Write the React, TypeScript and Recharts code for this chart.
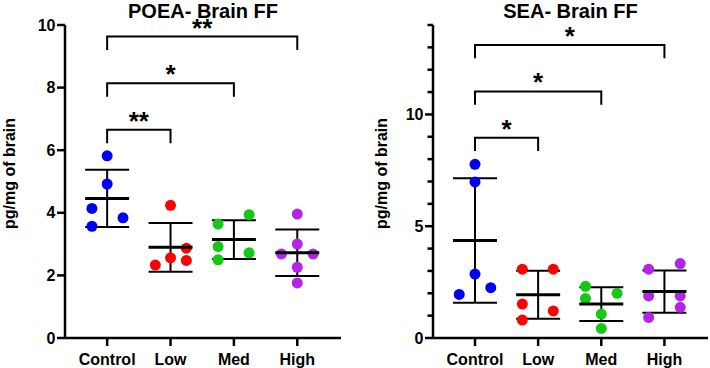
import React from 'react';
import { ScatterChart, Scatter, XAxis, YAxis, ErrorBar } from 'recharts';

const FONT = '"Liberation Sans", Arial, sans-serif';

// Groups on the x axis
const categories = ['Control', 'Low', 'Med', 'High'];
const groupColors = ['#0000F5', '#FF0000', '#14C814', '#B424E6'];

// POEA- Brain FF, pg/mg of brain
const poeaControl = [5.82, 4.92, 4.14, 3.84, 3.57];
const poeaLow = [4.24, 2.87, 2.56, 2.48, 2.33];
const poeaMed = [3.94, 3.64, 2.92, 2.72, 2.5];
const poeaHigh = [3.96, 3.0, 2.68, 2.68, 2.26, 1.76];

// horizontal scatter of each dot inside its group (category units)
const poeaControlJitter = [0, 0, -0.24, 0.25, -0.24];
const poeaLowJitter = [0, 0.25, 0, 0.25, -0.24];
const poeaMedJitter = [0.24, -0.25, -0.25, 0.24, -0.25];
const poeaHighJitter = [0, 0, -0.25, 0.25, 0, 0];

const poeaBrackets = [
  { from: 1, to: 2, y: 6.65, label: '**' },
  { from: 1, to: 3, y: 8.14, label: '*' },
  { from: 1, to: 4, y: 9.63, label: '**' },
];

// SEA- Brain FF, pg/mg of brain
const seaControl = [7.77, 6.98, 2.86, 2.25, 1.95];
const seaLow = [3.08, 3.08, 1.52, 1.21, 0.8];
const seaMed = [2.31, 2.0, 1.77, 1.07, 0.43];
const seaHigh = [3.33, 3.08, 1.88, 1.88, 1.37, 0.92];

const seaControlJitter = [0, 0, 0, 0.25, -0.25];
const seaLowJitter = [-0.25, 0.24, -0.25, 0.24, -0.25];
const seaMedJitter = [-0.25, 0.25, -0.25, 0, 0];
const seaHighJitter = [0.25, -0.25, -0.25, 0.25, 0.25, -0.25];

const seaBrackets = [
  { from: 1, to: 2, y: 8.96, label: '*' },
  { from: 1, to: 3, y: 11.03, label: '*' },
  { from: 1, to: 4, y: 13.11, label: '*' },
];

const poeaTicks = [0, 2, 4, 6, 8, 10];
const seaTicks = [0, 1, 2, 3, 4, 5, 6, 7, 8, 9, 10, 11, 12, 13, 14];

const mean = (v: number[]) => v.reduce((a, b) => a + b, 0) / v.length;
const sd = (v: number[]) => {
  const m = mean(v);
  return Math.sqrt(v.reduce((a, b) => a + (b - m) * (b - m), 0) / (v.length - 1));
};

const Dot = (props: any) => (
  <circle cx={props.cx} cy={props.cy} r={5.5} fill={props.fill} />
);

const MeanBar = (props: any) => (
  <line x1={props.cx - 22} x2={props.cx + 22} y1={props.cy} y2={props.cy} stroke="#000" strokeWidth={3} />
);

const Star = (props: any) => (
  <text
    x={props.cx}
    y={props.cy}
    textAnchor="middle"
    fontSize={26}
    fontWeight="bold"
    fontFamily={FONT}
    fill="#000"
  >
    {props.payload.label}
  </text>
);

const YTick = (props: any) => {
  const { x, y, payload, major } = props;
  const isMajor = payload.value % major === 0;
  const len = isMajor ? 8 : 5.5;
  return (
    <g>
      <line x1={x - len} x2={x} y1={y} y2={y} stroke="#000" strokeWidth={2.5} />
      {isMajor && (
        <text
          x={x - len - 1.5}
          y={y}
          dy="0.355em"
          textAnchor="end"
          fontSize={16}
          fontWeight="bold"
          fontFamily={FONT}
          fill="#000"
        >
          {payload.value}
        </text>
      )}
    </g>
  );
};

type PanelProps = {
  title: string;
  groups: number[][];
  jitters: number[][];
  brackets: { from: number; to: number; y: number; label: string }[];
  drop: number;
  yMax: number;
  yTicks: number[];
  major: number;
  yAxisWidth: number;
  rightMargin: number;
  labelDx: number;
  left: number;
};

const Panel = ({
  title, groups, jitters, brackets, drop, yMax, yTicks, major, yAxisWidth, rightMargin, labelDx, left,
}: PanelProps) => {
  const dots = groups.map((vals, g) =>
    vals.map((y, i) => ({ x: g + 1 + jitters[g][i], y }))
  );
  const summary = groups.map((vals, g) => ({ x: g + 1, y: mean(vals), sd: sd(vals) }));
  const plotCenter = yAxisWidth + (355 - yAxisWidth - rightMargin) / 2;
  return (
    <div style={{ position: 'absolute', left, top: 0, width: 355, height: 368 }}>
      <div
        style={{
          position: 'absolute',
          left: plotCenter - 150,
          width: 300,
          top: 1,
          textAlign: 'center',
          fontFamily: FONT,
          fontWeight: 'bold',
          fontSize: 20,
          lineHeight: '20px',
          color: '#000',
        }}
      >
        {title}
      </div>
      <ScatterChart width={355} height={368} margin={{ top: 25, right: rightMargin, bottom: 0, left: 0 }}>
        <XAxis
          type="number"
          dataKey="x"
          domain={[0.335, 4.69]}
          ticks={[1, 2, 3, 4]}
          interval={0}
          tickFormatter={(v: number) => categories[Math.round(v) - 1]}
          height={30}
          tickSize={8}
          tickMargin={8}
          axisLine={{ stroke: '#000', strokeWidth: 2.5 }}
          tickLine={{ stroke: '#000', strokeWidth: 2.5 }}
          tick={{ fill: '#000', fontSize: 16, fontWeight: 'bold', fontFamily: FONT }}
        />
        <YAxis
          type="number"
          dataKey="y"
          domain={[0, yMax]}
          ticks={yTicks}
          interval={0}
          width={yAxisWidth}
          tickSize={0}
          tickMargin={0}
          tickLine={false}
          axisLine={{ stroke: '#000', strokeWidth: 2.5 }}
          tick={(p: any) => <YTick {...p} major={major} />}
          label={{
            value: 'pg/mg of brain',
            angle: -90,
            position: 'center',
            dx: labelDx,
            dy: -8,
            fontSize: 16,
            fontWeight: 'bold',
            fontFamily: FONT,
            fill: '#000',
          }}
        />
        {dots.map((d, g) => (
          <Scatter
            key={`dots-${g}`}
            data={d}
            fill={groupColors[g]}
            shape={Dot}
            isAnimationActive={false}
          />
        ))}
        <Scatter data={summary} shape={MeanBar} isAnimationActive={false}>
          <ErrorBar
            dataKey="sd"
            direction="y"
            width={22}
            stroke="#000"
            strokeWidth={2}
            isAnimationActive={false}
          />
        </Scatter>
        {brackets.map((b, i) => (
          <Scatter
            key={`br-${i}`}
            data={[
              { x: b.from, y: b.y - drop },
              { x: b.from, y: b.y },
              { x: b.to, y: b.y },
              { x: b.to, y: b.y - drop },
            ]}
            line={{ stroke: '#000', strokeWidth: 2 }}
            lineType="joint"
            shape={() => <g />}
            isAnimationActive={false}
          />
        ))}
        <Scatter
          data={brackets.map((b) => ({ x: (b.from + b.to) / 2, y: b.y, label: b.label }))}
          shape={Star}
          isAnimationActive={false}
        />
      </ScatterChart>
    </div>
  );
};

export default function App() {
  return (
    <div style={{ position: 'absolute', left: 0, top: 0, width: 710, height: 368, background: '#fff' }}>
      <Panel
        title="POEA- Brain FF"
        groups={[poeaControl, poeaLow, poeaMed, poeaHigh]}
        jitters={[poeaControlJitter, poeaLowJitter, poeaMedJitter, poeaHighJitter]}
        brackets={poeaBrackets}
        drop={0.43}
        yMax={10}
        yTicks={poeaTicks}
        major={2}
        yAxisWidth={65}
        rightMargin={14}
        labelDx={-23.5}
        left={0}
      />
      <Panel
        title="SEA- Brain FF"
        groups={[seaControl, seaLow, seaMed, seaHigh]}
        jitters={[seaControlJitter, seaLowJitter, seaMedJitter, seaHighJitter]}
        brackets={seaBrackets}
        drop={0.6}
        yMax={14}
        yTicks={seaTicks}
        major={5}
        yAxisWidth={78}
        rightMargin={2}
        labelDx={-12.5}
        left={355}
      />
    </div>
  );
}
